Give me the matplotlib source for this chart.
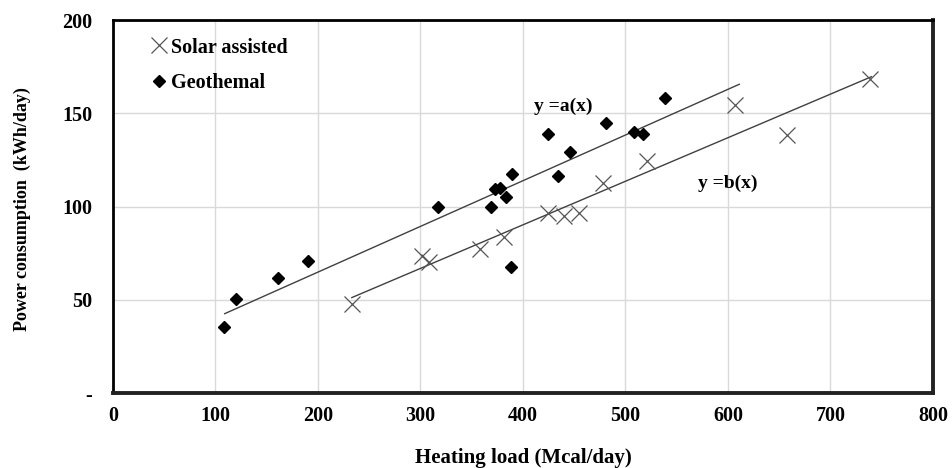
import numpy as np
import matplotlib
matplotlib.use('Agg')
import matplotlib.pyplot as plt

# Solar assisted (x markers)
solar_x = [233, 301, 308, 358, 381, 424, 440, 455, 478, 521, 607, 658, 739]
solar_y = [47.6, 73.5, 70.4, 77.2, 83.8, 96.4, 95.1, 96.4, 112.8, 124.4, 154.4, 138.2, 168.4]

# Geothermal (diamonds)
geo_x = [108, 120, 161, 190, 317, 369, 373, 378, 383, 389, 388, 424, 434, 446, 481, 508, 517, 539]
geo_y = [35.4, 50.4, 61.7, 70.8, 99.6, 99.6, 109.2, 109.8, 105, 117.4, 67.4, 138.9, 116.5, 129.2, 144.6, 139.8, 139.2, 158]

# trend lines: slope, intercept, x range
line_a = (0.245, 15.9, 109, 611)
line_b = (0.2336, -3.2, 233, 740)

xticks = [0, 100, 200, 300, 400, 500, 600, 700, 800]
yticks = [0, 50, 100, 150, 200]
ytlabels = ['-', '50', '100', '150', '200']

serif = ['Liberation Serif', 'DejaVu Serif']

fig = plt.figure(figsize=(9.52, 4.68), dpi=100)
ax = fig.add_axes([0.1187, 0.160, 0.8613, 0.797])
ax.set_xlim(0, 800)
ax.set_ylim(0, 200)
ax.set_axisbelow(True)
ax.grid(color='#d9d9d9', linewidth=1.0)

for (m, b, x0, x1) in [line_a, line_b]:
    xs = np.array([x0, x1])
    ax.plot(xs, m * xs + b, color='#404040', linewidth=1.0, zorder=2)

ax.plot(solar_x, solar_y, 'x', color='#555555', markersize=11, markeredgewidth=0.9,
        linestyle='none', label='Solar assisted', zorder=3)
ax.plot(geo_x, geo_y, 'D', color='black', markersize=6, linestyle='none',
        label='Geothemal', zorder=3)

ax.set_xticks(xticks)
ax.set_xticklabels([str(x) for x in xticks], family=serif, fontweight='bold', fontsize=14.5)
ax.set_yticks(yticks)
ax.set_yticklabels(ytlabels, family=serif, fontweight='bold', fontsize=14.5)
ax.tick_params(axis='both', length=0)
ax.tick_params(axis='y', pad=15)
ax.tick_params(axis='x', pad=9)

for s in ['left', 'top']:
    ax.spines[s].set_linewidth(2.0)
    ax.spines[s].set_color('black')
for s in ['right', 'bottom']:
    ax.spines[s].set_linewidth(2.8)
    ax.spines[s].set_color('#222222')

ax.text(439, 154, 'y =a(x)', family=serif, fontweight='bold', fontsize=14,
        ha='center', va='center')
ax.text(600, 112.6, 'y =b(x)', family=serif, fontweight='bold', fontsize=14,
        ha='center', va='center')

ax.set_xlabel('Heating load (Mcal/day)', family=serif, fontweight='bold', fontsize=15)
ax.xaxis.set_label_coords(0.5, -0.148)
ax.set_ylabel('Power consumption  (kWh/day)', family=serif, fontweight='bold', fontsize=13)
ax.yaxis.set_label_coords(-0.1, 0.494)

leg = ax.legend(loc='upper left', bbox_to_anchor=(0.037, 0.975), frameon=False,
                prop={'family': serif, 'weight': 'bold', 'size': 14.5},
                handlelength=0.8, handletextpad=0.15, labelspacing=0.75, borderaxespad=0)

plt.savefig('out.png', dpi=100)
